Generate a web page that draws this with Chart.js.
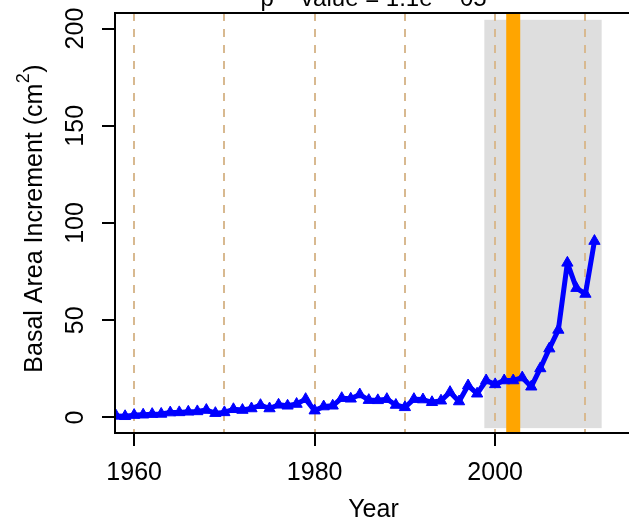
<!DOCTYPE html>
<html>
<head>
<meta charset="utf-8">
<script src="https://cdn.jsdelivr.net/npm/chart.js@4.4.1/dist/chart.umd.min.js"></script>
<style>
html, body { margin: 0; padding: 0; background: #fff; overflow: hidden; }
#c1 { display: block; }
</style>
</head>
<body>
<canvas id="c1" width="632" height="521"></canvas>
<script>
// data
const years = [1958, 1959, 1960, 1961, 1962, 1963, 1964, 1965, 1966, 1967,
    1968, 1969, 1970, 1971, 1972, 1973, 1974, 1975, 1976, 1977,
    1978, 1979, 1980, 1981, 1982, 1983, 1984, 1985, 1986, 1987,
    1988, 1989, 1990, 1991, 1992, 1993, 1994, 1995, 1996, 1997,
    1998, 1999, 2000, 2001, 2002, 2003, 2004, 2005, 2006, 2007,
    2008, 2009, 2010, 2011];
const bai = [0.8, 0.6, 1.2, 1.4, 1.7, 1.8, 2.5, 2.6, 2.9, 3.1,
    3.8, 2.2, 2.6, 4.2, 3.8, 4.6, 6.3, 4.6, 6.5, 6.0,
    6.9, 9.4, 3.5, 5.6, 6.0, 9.9, 9.6, 11.8, 8.9, 8.8,
    9.4, 6.4, 5.2, 9.4, 9.2, 7.8, 8.6, 13.0, 8.2, 16.4,
    12.2, 19.0, 17.0, 19.0, 19.0, 20.5, 15.8, 25.2, 35.4, 45.0,
    79.5, 66.5, 63.5, 90.7];

const xTicks = [1960, 1980, 2000];
const yTicks = [0, 50, 100, 150, 200];
const decadeLines = [1960, 1970, 1980, 1990, 2000, 2010];
const shadeYears = [1998.8, 2011.8];
const shadeValues = [-5.5, 204.5];
const breakYear = 2002;

const titleText = "p − value = 1.1e − 05";
const xTitle = "Year";
const yTitle = "Basal Area Increment (cm";
const yTitleSup = "2";

const FONT = '"Liberation Sans", Arial, sans-serif';

// grey period, dashed decades and the orange year go under everything
const backdrop = {
    id: 'backdrop',
    beforeDraw: (chart) => {
        const {ctx, chartArea: a, scales: {x, y}} = chart;
        ctx.save();
        ctx.beginPath();
        ctx.rect(a.left, a.top, a.right - a.left, a.bottom - a.top);
        ctx.clip();

        const x0 = x.getPixelForValue(shadeYears[0]);
        const x1 = x.getPixelForValue(shadeYears[1]);
        const y0 = y.getPixelForValue(shadeValues[1]);
        const y1 = y.getPixelForValue(shadeValues[0]);
        ctx.fillStyle = '#dedede';
        ctx.fillRect(x0, y0, x1 - x0, y1 - y0);

        ctx.strokeStyle = '#d8b990';
        ctx.lineWidth = 2;
        ctx.setLineDash([8, 8]);
        decadeLines.forEach((v) => {
            const px = Math.round(x.getPixelForValue(v));
            ctx.beginPath();
            ctx.moveTo(px, a.top);
            ctx.lineTo(px, a.bottom);
            ctx.stroke();
        });
        ctx.setLineDash([]);

        const bx = x.getPixelForValue(breakYear);
        ctx.strokeStyle = 'orange';
        ctx.lineWidth = 14;
        ctx.beginPath();
        ctx.moveTo(bx, a.top);
        ctx.lineTo(bx, a.bottom);
        ctx.stroke();
        ctx.restore();
    },
    afterDraw: (chart) => {
        const {ctx, chartArea: a, scales: {x, y}} = chart;
        ctx.save();

        // box (right side falls outside the window)
        ctx.strokeStyle = '#000';
        ctx.lineWidth = 2;
        ctx.beginPath();
        ctx.moveTo(a.right, a.top);
        ctx.lineTo(a.left, a.top);
        ctx.lineTo(a.left, a.bottom);
        ctx.lineTo(a.right, a.bottom);
        ctx.stroke();

        ctx.fillStyle = '#000';
        const cx = (a.left + a.right) / 2;

        // title, mostly cut off at the top
        ctx.font = '24px ' + FONT;
        ctx.textAlign = 'center';
        ctx.textBaseline = 'alphabetic';
        ctx.fillText(titleText, cx, 6);

        ctx.font = '25px ' + FONT;
        xTicks.forEach((v) => {
            ctx.fillText(String(v), x.getPixelForValue(v), 479.5);
        });
        ctx.fillText(xTitle, cx, 517);

        yTicks.forEach((v) => {
            ctx.save();
            ctx.translate(83, y.getPixelForValue(v));
            ctx.rotate(-Math.PI / 2);
            ctx.fillText(String(v), 0, 0);
            ctx.restore();
        });

        // y title with superscript
        ctx.save();
        ctx.translate(42, 219);
        ctx.rotate(-Math.PI / 2);
        ctx.textAlign = 'left';
        ctx.font = '25px ' + FONT;
        const wMain = ctx.measureText(yTitle).width;
        const wParen = ctx.measureText(')').width;
        ctx.font = '18px ' + FONT;
        const wSup = ctx.measureText(yTitleSup).width;
        const start = -(wMain + wSup + wParen) / 2;
        ctx.font = '25px ' + FONT;
        ctx.fillText(yTitle, start, 0);
        ctx.fillText(')', start + wMain + wSup + 1, 0);
        ctx.font = '18px ' + FONT;
        ctx.fillText(yTitleSup, start + wMain + 0.5, -13);
        ctx.restore();

        ctx.restore();
    }
};

const tickGrid = {
    display: true,
    drawOnChartArea: false,
    drawTicks: true,
    tickLength: 13,
    color: '#000',
    lineWidth: 2
};

const chart = new Chart(document.getElementById('c1'), {
    type: 'line',
    data: {
        datasets: [{
            data: years.map((yr, i) => ({x: yr, y: bai[i]})),
            borderColor: '#0000ff',
            backgroundColor: '#0000ff',
            borderWidth: 5,
            borderJoinStyle: 'round',
            borderCapStyle: 'round',
            tension: 0,
            pointStyle: 'triangle',
            pointRadius: 6.5,
            pointBorderWidth: 1,
            pointBackgroundColor: '#0000ff',
            pointBorderColor: '#0000ff',
            clip: 0
        }]
    },
    options: {
        responsive: false,
        animation: false,
        events: [],
        layout: {autoPadding: false, padding: {top: 13, left: 0, right: 0, bottom: 0}},
        plugins: {
            legend: {display: false},
            tooltip: {enabled: false}
        },
        scales: {
            x: {
                type: 'linear',
                min: 1957.88,
                max: 2015.16,
                afterBuildTicks: (s) => { s.ticks = xTicks.map((v) => ({value: v})); },
                afterFit: (s) => { s.height = 88; },
                ticks: {display: false},
                grid: tickGrid,
                border: {display: true, color: '#000', width: 2}
            },
            y: {
                type: 'linear',
                min: -8,
                max: 208,
                afterBuildTicks: (s) => { s.ticks = yTicks.map((v) => ({value: v})); },
                afterFit: (s) => { s.width = 115; },
                ticks: {display: false},
                grid: tickGrid,
                border: {display: true, color: '#000', width: 2}
            }
        }
    },
    plugins: [backdrop]
});
</script>
</body>
</html>
